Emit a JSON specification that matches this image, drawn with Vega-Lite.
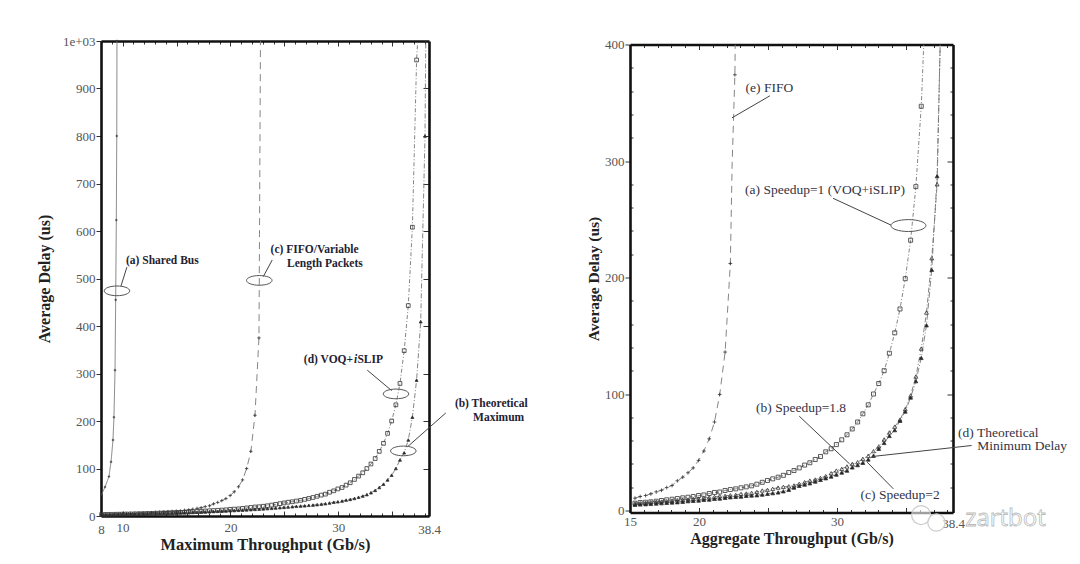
{
"$schema":"https://vega.github.io/schema/vega-lite/v6.json",
"description":"Average delay versus throughput, two panels",
"padding":{"left":36,"top":35,"right":0,"bottom":0},
"background":"#ffffff",
"bounds":"flush",
"spacing":201,
"center":true,
"resolve":{"scale":{"shape":"independent","size":"independent","fill":"independent","strokeDash":"independent"}},
"config":{"view":{"stroke":null},"axis":{"domainColor":"#111","domainWidth":2.6,"tickColor":"#333","tickWidth":1,"labelFont":"Liberation Serif","labelFontSize":13,"labelColor":"#555","titleFont":"Liberation Serif","titleFontWeight":"bold","titleColor":"#222","grid":false}},
"datasets":{
"left":[
{"s":"a","x":8.03,"y":44},{"s":"a","x":8.37,"y":61},{"s":"a","x":8.74,"y":83},{"s":"a","x":8.93,"y":114},{"s":"a","x":9.11,"y":160},{"s":"a","x":9.2,"y":208},{"s":"a","x":9.3,"y":307},{"s":"a","x":9.36,"y":455},{"s":"a","x":9.42,"y":623},{"s":"a","x":9.46,"y":800},{"s":"a","x":9.48,"y":1000},
{"s":"c","x":8.06,"y":3.5},{"s":"c","x":8.45,"y":3.8},{"s":"c","x":8.83,"y":4},{"s":"c","x":9.22,"y":4.2},{"s":"c","x":9.6,"y":4.5},{"s":"c","x":9.98,"y":4.8},{"s":"c","x":10.37,"y":5},{"s":"c","x":10.75,"y":5.3},{"s":"c","x":11.14,"y":5.6},{"s":"c","x":11.52,"y":6},{"s":"c","x":11.9,"y":6.4},{"s":"c","x":12.29,"y":6.8},{"s":"c","x":12.67,"y":7.2},{"s":"c","x":13.06,"y":7.7},{"s":"c","x":13.44,"y":8.2},{"s":"c","x":13.82,"y":8.7},{"s":"c","x":14.21,"y":9.3},{"s":"c","x":14.59,"y":9.8},{"s":"c","x":14.98,"y":10.2},{"s":"c","x":15.36,"y":10.6},{"s":"c","x":15.74,"y":12},{"s":"c","x":16.13,"y":12.9},{"s":"c","x":16.51,"y":14.3},{"s":"c","x":16.9,"y":16},{"s":"c","x":17.28,"y":17.4},{"s":"c","x":17.66,"y":19.7},{"s":"c","x":18.05,"y":21.5},{"s":"c","x":18.43,"y":25.5},{"s":"c","x":18.82,"y":28.6},{"s":"c","x":19.2,"y":32.4},{"s":"c","x":19.58,"y":36.6},{"s":"c","x":19.97,"y":43},{"s":"c","x":20.35,"y":51},{"s":"c","x":20.74,"y":61.5},{"s":"c","x":21.12,"y":76},{"s":"c","x":21.5,"y":100},{"s":"c","x":21.89,"y":136},{"s":"c","x":22.27,"y":212},{"s":"c","x":22.64,"y":375},{"s":"c","x":22.67,"y":490,"m":0},{"s":"c","x":22.69,"y":592,"m":0},{"s":"c","x":22.78,"y":1000,"m":0},
{"s":"d","x":8.06,"y":3.2},{"s":"d","x":8.45,"y":3.3},{"s":"d","x":8.83,"y":3.5},{"s":"d","x":9.22,"y":3.6},{"s":"d","x":9.6,"y":3.8},{"s":"d","x":9.98,"y":4},{"s":"d","x":10.37,"y":4.2},{"s":"d","x":10.75,"y":4.4},{"s":"d","x":11.14,"y":4.6},{"s":"d","x":11.52,"y":4.8},{"s":"d","x":11.9,"y":5},{"s":"d","x":12.29,"y":5.3},{"s":"d","x":12.67,"y":5.5},{"s":"d","x":13.06,"y":5.8},{"s":"d","x":13.44,"y":6.1},{"s":"d","x":13.82,"y":6.4},{"s":"d","x":14.21,"y":6.7},{"s":"d","x":14.59,"y":7},{"s":"d","x":14.98,"y":7.3},{"s":"d","x":15.36,"y":7.7},{"s":"d","x":15.74,"y":8},{"s":"d","x":16.13,"y":8.5},{"s":"d","x":16.51,"y":9},{"s":"d","x":16.9,"y":9.5},{"s":"d","x":17.28,"y":10},{"s":"d","x":17.66,"y":10.5},{"s":"d","x":18.05,"y":11},{"s":"d","x":18.43,"y":11.5},{"s":"d","x":18.82,"y":12},{"s":"d","x":19.2,"y":12.5},{"s":"d","x":19.58,"y":13},{"s":"d","x":19.97,"y":14},{"s":"d","x":20.35,"y":14.5},{"s":"d","x":20.74,"y":15},{"s":"d","x":21.12,"y":16},{"s":"d","x":21.5,"y":17},{"s":"d","x":21.89,"y":18},{"s":"d","x":22.27,"y":19},{"s":"d","x":22.66,"y":19.5},{"s":"d","x":23.04,"y":20.5},{"s":"d","x":23.42,"y":21.5},{"s":"d","x":23.81,"y":23},{"s":"d","x":24.19,"y":24.5},{"s":"d","x":24.58,"y":26},{"s":"d","x":24.96,"y":27.5},{"s":"d","x":25.34,"y":29},{"s":"d","x":25.73,"y":30},{"s":"d","x":26.11,"y":31.5},{"s":"d","x":26.5,"y":33},{"s":"d","x":26.88,"y":35},{"s":"d","x":27.26,"y":37},{"s":"d","x":27.65,"y":39},{"s":"d","x":28.03,"y":41.5},{"s":"d","x":28.42,"y":44},{"s":"d","x":28.8,"y":46},{"s":"d","x":29.18,"y":50},{"s":"d","x":29.57,"y":53},{"s":"d","x":29.95,"y":57},{"s":"d","x":30.34,"y":60},{"s":"d","x":30.72,"y":65},{"s":"d","x":31.1,"y":70},{"s":"d","x":31.49,"y":77},{"s":"d","x":31.87,"y":84},{"s":"d","x":32.26,"y":91},{"s":"d","x":32.64,"y":100},{"s":"d","x":33.02,"y":109.5},{"s":"d","x":33.41,"y":121},{"s":"d","x":33.79,"y":136},{"s":"d","x":34.18,"y":153},{"s":"d","x":34.56,"y":174},{"s":"d","x":34.94,"y":200},{"s":"d","x":35.33,"y":234},{"s":"d","x":35.71,"y":279},{"s":"d","x":36.1,"y":348},{"s":"d","x":36.48,"y":443},{"s":"d","x":36.86,"y":608},{"s":"d","x":37.25,"y":960},{"s":"d","x":37.35,"y":1000,"m":0},
{"s":"b","x":8.06,"y":2.9},{"s":"b","x":8.45,"y":3},{"s":"b","x":8.83,"y":3.2},{"s":"b","x":9.22,"y":3.3},{"s":"b","x":9.6,"y":3.5},{"s":"b","x":9.98,"y":3.7},{"s":"b","x":10.37,"y":3.9},{"s":"b","x":10.75,"y":4.1},{"s":"b","x":11.14,"y":4.3},{"s":"b","x":11.52,"y":4.5},{"s":"b","x":11.9,"y":4.7},{"s":"b","x":12.29,"y":4.9},{"s":"b","x":12.67,"y":5.1},{"s":"b","x":13.06,"y":5.3},{"s":"b","x":13.44,"y":5.5},{"s":"b","x":13.82,"y":5.8},{"s":"b","x":14.21,"y":6},{"s":"b","x":14.59,"y":6.3},{"s":"b","x":14.98,"y":6.5},{"s":"b","x":15.36,"y":6.8},{"s":"b","x":15.74,"y":7.1},{"s":"b","x":16.13,"y":7.4},{"s":"b","x":16.51,"y":7.7},{"s":"b","x":16.9,"y":8},{"s":"b","x":17.28,"y":8.3},{"s":"b","x":17.66,"y":8.7},{"s":"b","x":18.05,"y":9},{"s":"b","x":18.43,"y":9.4},{"s":"b","x":18.82,"y":9.8},{"s":"b","x":19.2,"y":10.2},{"s":"b","x":19.58,"y":10.6},{"s":"b","x":19.97,"y":11},{"s":"b","x":20.35,"y":11.5},{"s":"b","x":20.74,"y":12},{"s":"b","x":21.12,"y":12.4},{"s":"b","x":21.5,"y":12.9},{"s":"b","x":21.89,"y":13.4},{"s":"b","x":22.27,"y":14},{"s":"b","x":22.66,"y":14.5},{"s":"b","x":23.04,"y":15},{"s":"b","x":23.42,"y":15.6},{"s":"b","x":23.81,"y":16.2},{"s":"b","x":24.19,"y":16.8},{"s":"b","x":24.58,"y":17.5},{"s":"b","x":24.96,"y":18.2},{"s":"b","x":25.34,"y":19},{"s":"b","x":25.73,"y":19.6},{"s":"b","x":26.11,"y":20.4},{"s":"b","x":26.5,"y":21},{"s":"b","x":26.88,"y":21.5},{"s":"b","x":27.26,"y":22.5},{"s":"b","x":27.65,"y":23},{"s":"b","x":28.03,"y":24},{"s":"b","x":28.42,"y":25},{"s":"b","x":28.8,"y":26},{"s":"b","x":29.18,"y":27.5},{"s":"b","x":29.57,"y":29},{"s":"b","x":29.95,"y":30},{"s":"b","x":30.34,"y":31.5},{"s":"b","x":30.72,"y":33.5},{"s":"b","x":31.1,"y":35},{"s":"b","x":31.49,"y":37},{"s":"b","x":31.87,"y":39.5},{"s":"b","x":32.26,"y":42},{"s":"b","x":32.64,"y":45},{"s":"b","x":33.02,"y":49},{"s":"b","x":33.41,"y":54},{"s":"b","x":33.79,"y":60},{"s":"b","x":34.18,"y":67},{"s":"b","x":34.56,"y":76},{"s":"b","x":34.94,"y":86},{"s":"b","x":35.33,"y":100},{"s":"b","x":35.71,"y":118},{"s":"b","x":36.1,"y":133},{"s":"b","x":36.48,"y":160},{"s":"b","x":36.86,"y":208},{"s":"b","x":37.25,"y":286},{"s":"b","x":37.63,"y":409},{"s":"b","x":38.03,"y":800},{"s":"b","x":38.1,"y":1000,"m":0}
],
"right":[
{"s":"e","x":15.36,"y":10.6},{"s":"e","x":15.74,"y":12},{"s":"e","x":16.13,"y":12.9},{"s":"e","x":16.51,"y":14.3},{"s":"e","x":16.9,"y":16},{"s":"e","x":17.28,"y":17.4},{"s":"e","x":17.66,"y":19.7},{"s":"e","x":18.05,"y":21.5},{"s":"e","x":18.43,"y":25.5},{"s":"e","x":18.82,"y":28.6},{"s":"e","x":19.2,"y":32.4},{"s":"e","x":19.58,"y":36.6},{"s":"e","x":19.97,"y":43},{"s":"e","x":20.35,"y":51},{"s":"e","x":20.74,"y":61.5},{"s":"e","x":21.12,"y":76},{"s":"e","x":21.5,"y":99.6},{"s":"e","x":21.89,"y":136},{"s":"e","x":22.27,"y":212},{"s":"e","x":22.4,"y":298,"m":0},{"s":"e","x":22.6,"y":374},{"s":"e","x":22.62,"y":400,"m":0},
{"s":"a","x":15.36,"y":6.3},{"s":"a","x":15.74,"y":6.9},{"s":"a","x":16.13,"y":7.1},{"s":"a","x":16.51,"y":7.5},{"s":"a","x":16.9,"y":8},{"s":"a","x":17.28,"y":8.6},{"s":"a","x":17.66,"y":9.2},{"s":"a","x":18.05,"y":9.7},{"s":"a","x":18.43,"y":10.3},{"s":"a","x":18.82,"y":10.9},{"s":"a","x":19.2,"y":11.4},{"s":"a","x":19.58,"y":12},{"s":"a","x":19.97,"y":12.9},{"s":"a","x":20.35,"y":13.4},{"s":"a","x":20.74,"y":14.6},{"s":"a","x":21.12,"y":15.5},{"s":"a","x":21.5,"y":15.9},{"s":"a","x":21.89,"y":17.2},{"s":"a","x":22.27,"y":18},{"s":"a","x":22.66,"y":18.6},{"s":"a","x":23.04,"y":19.5},{"s":"a","x":23.42,"y":20.3},{"s":"a","x":23.81,"y":21.2},{"s":"a","x":24.19,"y":22.6},{"s":"a","x":24.58,"y":24.2},{"s":"a","x":24.96,"y":25.8},{"s":"a","x":25.34,"y":27.2},{"s":"a","x":25.73,"y":28.6},{"s":"a","x":26.11,"y":30.2},{"s":"a","x":26.5,"y":32.6},{"s":"a","x":26.88,"y":34.3},{"s":"a","x":27.26,"y":36.6},{"s":"a","x":27.65,"y":39},{"s":"a","x":28.03,"y":41},{"s":"a","x":28.42,"y":43.8},{"s":"a","x":28.8,"y":46.4},{"s":"a","x":29.18,"y":50.4},{"s":"a","x":29.57,"y":53},{"s":"a","x":29.95,"y":56.6},{"s":"a","x":30.34,"y":60.7},{"s":"a","x":30.72,"y":65},{"s":"a","x":31.1,"y":70},{"s":"a","x":31.49,"y":76},{"s":"a","x":31.87,"y":83},{"s":"a","x":32.26,"y":90.7},{"s":"a","x":32.64,"y":100},{"s":"a","x":33.02,"y":109},{"s":"a","x":33.41,"y":120},{"s":"a","x":33.79,"y":135},{"s":"a","x":34.18,"y":152.5},{"s":"a","x":34.56,"y":173},{"s":"a","x":34.94,"y":199},{"s":"a","x":35.33,"y":232},{"s":"a","x":35.71,"y":278},{"s":"a","x":36.1,"y":347},{"s":"a","x":36.28,"y":400,"m":0},
{"s":"b","x":15.36,"y":6},{"s":"b","x":15.74,"y":6.3},{"s":"b","x":16.13,"y":6.6},{"s":"b","x":16.51,"y":7.1},{"s":"b","x":16.9,"y":7.5},{"s":"b","x":17.28,"y":7.7},{"s":"b","x":17.66,"y":8},{"s":"b","x":18.05,"y":8.3},{"s":"b","x":18.43,"y":8.8},{"s":"b","x":18.82,"y":9.2},{"s":"b","x":19.2,"y":9.4},{"s":"b","x":19.58,"y":10},{"s":"b","x":19.97,"y":10.3},{"s":"b","x":20.35,"y":10.9},{"s":"b","x":20.74,"y":11.2},{"s":"b","x":21.12,"y":11.7},{"s":"b","x":21.5,"y":12.3},{"s":"b","x":21.89,"y":12.6},{"s":"b","x":22.27,"y":13.1},{"s":"b","x":22.66,"y":13.4},{"s":"b","x":23.04,"y":14.3},{"s":"b","x":23.42,"y":14.6},{"s":"b","x":23.81,"y":15.2},{"s":"b","x":24.19,"y":16},{"s":"b","x":24.58,"y":17.2},{"s":"b","x":24.96,"y":17.7},{"s":"b","x":25.34,"y":18.6},{"s":"b","x":25.73,"y":19.7},{"s":"b","x":26.11,"y":20.3},{"s":"b","x":26.5,"y":20.8},{"s":"b","x":26.88,"y":21.5},{"s":"b","x":27.26,"y":22.9},{"s":"b","x":27.65,"y":24.3},{"s":"b","x":28.03,"y":25.7},{"s":"b","x":28.42,"y":26.6},{"s":"b","x":28.8,"y":28},{"s":"b","x":29.18,"y":29.5},{"s":"b","x":29.57,"y":32},{"s":"b","x":29.95,"y":34.3},{"s":"b","x":30.34,"y":35.8},{"s":"b","x":30.72,"y":37.8},{"s":"b","x":31.1,"y":40},{"s":"b","x":31.49,"y":41.5},{"s":"b","x":31.87,"y":44.4},{"s":"b","x":32.26,"y":47},{"s":"b","x":32.64,"y":51},{"s":"b","x":33.02,"y":55},{"s":"b","x":33.41,"y":61},{"s":"b","x":33.79,"y":67},{"s":"b","x":34.18,"y":72},{"s":"b","x":34.56,"y":78},{"s":"b","x":34.94,"y":87},{"s":"b","x":35.33,"y":98.7},{"s":"b","x":35.71,"y":115},{"s":"b","x":36.1,"y":139},{"s":"b","x":36.48,"y":170},{"s":"b","x":36.86,"y":216.6},{"s":"b","x":37.25,"y":280},{"s":"b","x":37.47,"y":400,"m":0},
{"s":"d","x":15.36,"y":4.9},{"s":"d","x":15.74,"y":5.2},{"s":"d","x":16.13,"y":5.4},{"s":"d","x":16.51,"y":5.7},{"s":"d","x":16.9,"y":6},{"s":"d","x":17.28,"y":6.3},{"s":"d","x":17.66,"y":6.6},{"s":"d","x":18.05,"y":6.9},{"s":"d","x":18.43,"y":7.1},{"s":"d","x":18.82,"y":7.5},{"s":"d","x":19.2,"y":8},{"s":"d","x":19.58,"y":8.3},{"s":"d","x":19.97,"y":8.6},{"s":"d","x":20.35,"y":9.2},{"s":"d","x":20.74,"y":9.4},{"s":"d","x":21.12,"y":10},{"s":"d","x":21.5,"y":10.3},{"s":"d","x":21.89,"y":10.9},{"s":"d","x":22.27,"y":11.4},{"s":"d","x":22.66,"y":11.7},{"s":"d","x":23.04,"y":12},{"s":"d","x":23.42,"y":12.6},{"s":"d","x":23.81,"y":12.9},{"s":"d","x":24.19,"y":13.1},{"s":"d","x":24.58,"y":13.7},{"s":"d","x":24.96,"y":14.3},{"s":"d","x":25.34,"y":14.9},{"s":"d","x":25.73,"y":15.5},{"s":"d","x":26.11,"y":16.5},{"s":"d","x":26.5,"y":17.8},{"s":"d","x":26.88,"y":19.7},{"s":"d","x":27.26,"y":21.2},{"s":"d","x":27.65,"y":22.3},{"s":"d","x":28.03,"y":23.4},{"s":"d","x":28.42,"y":24.9},{"s":"d","x":28.8,"y":26.3},{"s":"d","x":29.18,"y":27.7},{"s":"d","x":29.57,"y":29.2},{"s":"d","x":29.95,"y":30.9},{"s":"d","x":30.34,"y":32.6},{"s":"d","x":30.72,"y":34.3},{"s":"d","x":31.1,"y":37},{"s":"d","x":31.49,"y":39},{"s":"d","x":31.87,"y":41},{"s":"d","x":32.26,"y":43.8},{"s":"d","x":32.64,"y":47},{"s":"d","x":33.02,"y":53},{"s":"d","x":33.41,"y":58},{"s":"d","x":33.79,"y":64},{"s":"d","x":34.18,"y":69},{"s":"d","x":34.56,"y":77},{"s":"d","x":34.94,"y":85},{"s":"d","x":35.33,"y":97},{"s":"d","x":35.71,"y":111},{"s":"d","x":36.1,"y":131},{"s":"d","x":36.48,"y":159},{"s":"d","x":36.86,"y":206.6},{"s":"d","x":37.25,"y":287},{"s":"d","x":37.47,"y":400,"m":0}
]
},
"hconcat":[
{"width":328,"height":475,
"layer":[
{"data":{"name":"left"},"mark":{"type":"line","strokeWidth":0.9,"clip":true},
"encoding":{
"x":{"field":"x","type":"quantitative","scale":{"domain":[8,38.4],"nice":false,"zero":false},"title":"Maximum Throughput (Gb/s)",
"axis":{"orient":"bottom","format":".1~f","values":[8,9,10,11,12,13,14,15,16,17,18,19,20,21,22,23,24,25,26,27,28,29,30,31,32,33,34,35,36,37,38,38.4],"labelExpr":"indexof([8,10,20,30,38.4],datum.value)>=0?datum.label:''","labelPadding":10,"labelFlush":false,"labelOverlap":false,"titleFontSize":16.4,"titlePadding":0,"tickSize":{"condition":{"test":"datum.value%5==0","value":-5},"value":-3}}},
"y":{"field":"y","type":"quantitative","scale":{"domain":[0,1000],"nice":false},"title":"Average Delay (us)",
"axis":{"orient":"left","values":[0,100,200,300,400,500,600,700,800,900,1000],"labelExpr":"datum.value==1000?'1e+03':datum.label","labelPadding":1,"tickSize":5,"titleFontSize":16,"titlePadding":10}},
"detail":{"field":"s"},
"color":{"value":"#777"},
"strokeDash":{"field":"s","legend":null,"scale":{"domain":["a","b","c","d"],"range":[[1,0],[5,2,1,2],[7,5],[4,2,1,2]]}}}},
{"data":{"name":"left"},"transform":[{"filter":"datum.m!==0"}],"mark":{"type":"point","strokeWidth":0.8,"opacity":1},
"encoding":{
"x":{"field":"x","type":"quantitative","scale":{"domain":[8,38.4],"nice":false,"zero":false},"title":null,
"axis":{"orient":"top","domain":true,"labels":false,"values":[8,9,10,11,12,13,14,15,16,17,18,19,20,21,22,23,24,25,26,27,28,29,30,31,32,33,34,35,36,37,38],"tickSize":{"condition":{"test":"datum.value%5==0","value":-5},"value":-3}}},
"y":{"field":"y","type":"quantitative","scale":{"domain":[0,1000],"nice":false},"title":null,
"axis":{"orient":"right","domain":true,"labels":false,"values":[100,200,300,400,500,600,700,800,900],"tickSize":-6}},
"shape":{"field":"s","legend":null,"scale":{"domain":["a","b","c","d"],"range":["M-1,0L1,0M0,-1L0,1","triangle-up","M-1,0L1,0M0,-1L0,1","square"]}},
"size":{"field":"s","legend":null,"scale":{"domain":["a","b","c","d"],"range":[6,14,24,16]}},
"fill":{"field":"s","legend":null,"scale":{"domain":["a","b","c","d"],"range":["#222","#222","#222","#ffffff00"]}},
"stroke":{"value":"#333"}}},
{"data":{"values":[
{"x":9.85,"y":484,"x2":10.4,"y2":524},{"x":23.04,"y":504,"x2":23.87,"y2":539},{"x":32.68,"y":307,"x2":34.94,"y2":264},{"x":36.42,"y":146,"x2":39.96,"y2":217}]},
"mark":{"type":"rule","color":"#444","strokeWidth":1,"clip":false},
"encoding":{"x":{"field":"x","type":"quantitative","axis":null},"x2":{"field":"x2"},"y":{"field":"y","type":"quantitative","axis":null},"y2":{"field":"y2"}}},
{"data":{"values":[{"x":9.48,"y":474},{"x":22.67,"y":496},{"x":35.34,"y":257},{"x":36.02,"y":137}]},
"mark":{"type":"point","shape":"M-1,0A1,0.38,0,1,1,1,0A1,0.38,0,1,1,-1,0Z","size":650,"stroke":"#555","strokeWidth":1,"fill":"#ffffff00","opacity":1},
"encoding":{"x":{"field":"x","type":"quantitative","axis":null},"y":{"field":"y","type":"quantitative","axis":null}}},
{"data":{"values":[
{"x":10.32,"y":537,"label":"(a) Shared Bus"},{"x":23.72,"y":560,"label":"(c) FIFO/Variable"},{"x":25.24,"y":530.5,"label":"Length Packets"},{"x":26.8,"y":328,"label":"(d) VOQ+"},{"x":31.77,"y":328,"label":"SLIP"},{"x":40.8,"y":236,"label":"(b) Theoretical"},{"x":42.48,"y":206,"label":"Maximum"}]},
"mark":{"type":"text","align":"left","baseline":"middle","font":"Liberation Serif","fontSize":11.5,"fontWeight":"bold","color":"#223","clip":false},
"encoding":{"x":{"field":"x","type":"quantitative","axis":null},"y":{"field":"y","type":"quantitative","axis":null},"text":{"field":"label"}}},
{"data":{"values":[{"x":31.45,"y":328,"label":"i"}]},
"mark":{"type":"text","align":"left","baseline":"middle","font":"Liberation Serif","fontSize":11.5,"fontWeight":"bold","fontStyle":"italic","color":"#223"},
"encoding":{"x":{"field":"x","type":"quantitative","axis":null},"y":{"field":"y","type":"quantitative","axis":null},"text":{"field":"label"}}}
],
"resolve":{"axis":{"x":"independent","y":"independent"}}},
{"width":323,"height":468,
"layer":[
{"data":{"name":"right"},"mark":{"type":"line","strokeWidth":0.9,"clip":true},
"encoding":{
"x":{"field":"x","type":"quantitative","scale":{"domain":[15,38.4],"nice":false,"zero":false},"title":"Aggregate Throughput (Gb/s)",
"axis":{"orient":"bottom","format":".1~f","values":[15,16,17,18,19,20,21,22,23,24,25,26,27,28,29,30,31,32,33,34,35,36,37,38,38.4],"labelExpr":"indexof([15,20,30,38.4],datum.value)>=0?datum.label:''","labelPadding":8,"labelFlush":false,"labelOverlap":false,"titleFontSize":16,"titlePadding":0,"tickSize":{"condition":{"test":"datum.value%5==0","value":-5},"value":-3}}},
"y":{"field":"y","type":"quantitative","scale":{"domain":[-1.7,400],"nice":false,"zero":false},"title":"Average Delay (us)",
"axis":{"orient":"left","values":[0,20,40,60,80,100,120,140,160,180,200,220,240,260,280,300,320,340,360,380,400],"labelExpr":"datum.value%100==0?datum.label:''","labelPadding":1,"labelOverlap":false,"tickSize":{"condition":{"test":"datum.value%100==0","value":5},"value":-3},"titleFontSize":15.5,"titlePadding":3}},
"detail":{"field":"s"},
"color":{"value":"#777"},
"strokeDash":{"field":"s","legend":null,"scale":{"domain":["a","b","d","e"],"range":[[4,2,1,2],[5,2,1,2],[6,2,1,2],[7,5]]}}}},
{"data":{"name":"right"},"transform":[{"filter":"datum.m!==0"}],"mark":{"type":"point","strokeWidth":0.8,"opacity":1},
"encoding":{
"x":{"field":"x","type":"quantitative","scale":{"domain":[15,38.4],"nice":false,"zero":false},"title":null,
"axis":{"orient":"top","domain":true,"labels":false,"values":[15,16,17,18,19,20,21,22,23,24,25,26,27,28,29,30,31,32,33,34,35,36,37,38],"tickSize":{"condition":{"test":"datum.value%5==0","value":-5},"value":-3}}},
"y":{"field":"y","type":"quantitative","scale":{"domain":[-1.7,400],"nice":false,"zero":false},"title":null,
"axis":{"orient":"right","domain":true,"labels":false,"values":[20,40,60,80,100,120,140,160,180,200,220,240,260,280,300,320,340,360,380],"tickSize":{"condition":{"test":"datum.value%100==0","value":-6},"value":-3}}},
"shape":{"field":"s","legend":null,"scale":{"domain":["a","b","d","e"],"range":["square","triangle-up","triangle-up","M-1,0L1,0M0,-1L0,1"]}},
"size":{"field":"s","legend":null,"scale":{"domain":["a","b","d","e"],"range":[16,14,9,24]}},
"fill":{"field":"s","legend":null,"scale":{"domain":["a","b","d","e"],"range":["#ffffff00","#ffffff00","#222","#222"]}},
"stroke":{"value":"#333"}}},
{"data":{"values":[
{"x":25.14,"y":356,"x2":22.38,"y2":337},{"x":29.71,"y":268,"x2":33.91,"y2":245},{"x":27.26,"y":81,"x2":30.91,"y2":40},{"x":34.08,"y":18.6,"x2":32.18,"y2":41.5},{"x":39.75,"y":55.8,"x2":32.59,"y2":46.4}]},
"mark":{"type":"rule","color":"#444","strokeWidth":1,"clip":false},
"encoding":{"x":{"field":"x","type":"quantitative","axis":null},"x2":{"field":"x2"},"y":{"field":"y","type":"quantitative","axis":null},"y2":{"field":"y2"}}},
{"data":{"values":[{"x":35.17,"y":244.6}]},
"mark":{"type":"point","shape":"M-1,0A1,0.34,0,1,1,1,0A1,0.34,0,1,1,-1,0Z","size":1225,"stroke":"#555","strokeWidth":1,"fill":"#ffffff00","opacity":1},
"encoding":{"x":{"field":"x","type":"quantitative","axis":null},"y":{"field":"y","type":"quantitative","axis":null}}},
{"data":{"values":[
{"x":23.37,"y":363,"label":"(e) FIFO"},{"x":23.34,"y":275,"label":"(a) Speedup=1 (VOQ+iSLIP)"},{"x":24.13,"y":87.8,"label":"(b) Speedup=1.8"},{"x":31.7,"y":13.7,"label":"(c) Speedup=2"},{"x":38.77,"y":66.4,"label":"(d) Theoretical"},{"x":40.16,"y":55.2,"label":"Minimum Delay"}]},
"mark":{"type":"text","align":"left","baseline":"middle","font":"Liberation Serif","fontSize":13.5,"color":"#334","clip":false},
"encoding":{"x":{"field":"x","type":"quantitative","axis":null},"y":{"field":"y","type":"quantitative","axis":null},"text":{"field":"label"}}},
{"data":{"values":[{"x":36.09,"y":-3.9,"d":530},{"x":37.2,"y":-10.3,"d":440}]},
"mark":{"type":"point","shape":"circle","stroke":"#ccc","strokeWidth":1.2,"fill":"#ffffff99","opacity":1},
"encoding":{"x":{"field":"x","type":"quantitative","axis":null},"y":{"field":"y","type":"quantitative","axis":null},"size":{"field":"d","type":"quantitative","legend":null,"scale":{"type":"identity"}}}},
{"data":{"values":[{"x":42.2,"y":-7.7,"label":"zartbot"}]},
"mark":{"type":"text","align":"center","baseline":"middle","font":"Open Sans","fontSize":24,"fill":"#ffffff","stroke":"#bbb","strokeWidth":0.8},
"encoding":{"x":{"field":"x","type":"quantitative","axis":null},"y":{"field":"y","type":"quantitative","axis":null},"text":{"field":"label"}}}
],
"resolve":{"axis":{"x":"independent","y":"independent"}}}
]
}
